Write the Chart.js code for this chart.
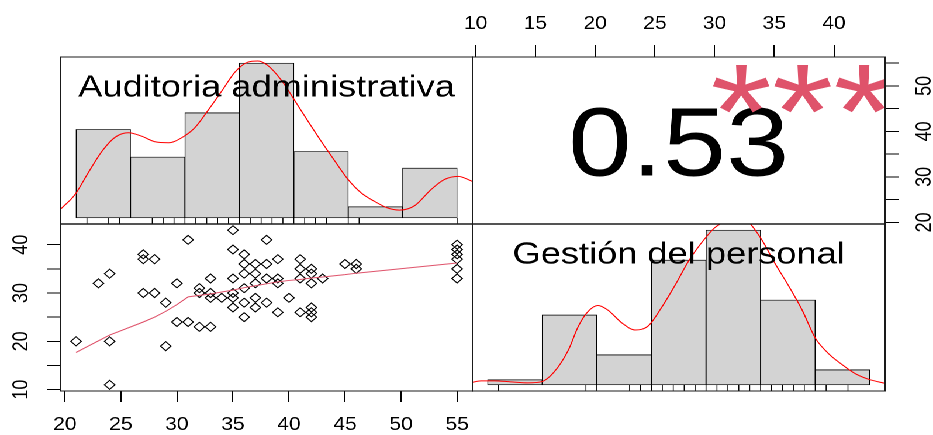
<!DOCTYPE html>
<html>
<head>
<meta charset="utf-8">
<title>Correlación</title>
<script src="https://cdn.jsdelivr.net/npm/chart.js@4.4.1/dist/chart.umd.min.js"></script>
<style>
  html, body { margin: 0; padding: 0; background: #fff; overflow: hidden; }
  /* the reference is stretched sideways, so the whole layout is too */
  #wrap { position: absolute; left: 0; top: 0; width: 798px; height: 435px;
          transform: scaleX(1.1692); transform-origin: 0 0; }
  #wrap canvas { position: absolute; }
</style>
</head>
<body>
<div id="wrap">
  <canvas id="histA" width="356" height="171" style="left:50px;top:55px"></canvas>
  <canvas id="histD" width="357" height="171" style="left:402px;top:222px"></canvas>
  <canvas id="scatter" width="406" height="213" style="left:0px;top:222px"></canvas>
  <canvas id="corr" width="426" height="250" style="left:372px;top:0px"></canvas>
</div>
<script>
// ---- data ----
const labelA = 'Auditoria administrativa';
const labelD = 'Gestión del personal';

// scatter pairs (x = Auditoria administrativa, y = Gestión del personal)
const audit   = [21, 23, 24, 24, 24, 27, 27, 27, 28, 28, 29, 29, 30, 30, 31, 31, 32, 32, 32,
                 33, 33, 33, 33, 34, 35, 35, 35, 35, 35, 35, 36, 36, 36, 36, 36, 36,
                 37, 37, 37, 37, 37, 38, 38, 38, 38, 39, 39, 39, 39, 40, 41, 41, 41, 41,
                 42, 42, 42, 42, 42, 42, 43, 45, 46, 46, 55, 55, 55, 55, 55, 55];
const gestion = [20, 32, 34, 20, 11, 38, 37, 30, 37, 30, 28, 19, 32, 24, 41, 24, 31, 30, 23,
                 33, 30, 29, 23, 29, 43, 39, 33, 30, 29, 27, 38, 36, 34, 31, 28, 25,
                 36, 34, 32, 29, 27, 41, 36, 33, 28, 37, 33, 32, 26, 29, 37, 35, 33, 26,
                 35, 34, 32, 27, 26, 25, 33, 36, 36, 35, 40, 39, 38, 37, 35, 33];

// smoothed line through the scatter
const lowX = [21, 23, 24, 27, 28, 29, 30, 31, 32, 33, 34, 35, 36, 37, 38, 39, 40, 41, 42, 43, 45, 46, 55];
const lowY = [17.7, 20.1, 21.3, 24.0, 25.0, 26.2, 27.6, 29.2, 29.5, 29.8, 30.2, 30.6, 31.1, 31.5,
              31.9, 32.3, 32.6, 32.8, 33.1, 33.3, 33.8, 34.1, 36.2];

// histograms (counts per bin)
const breaksA = [20, 25, 30, 35, 40, 45, 50, 55];
const countsA = [16, 11, 19, 28, 12, 2, 9];
const breaksD = [10, 15, 20, 25, 30, 35, 40, 45];
const countsD = [1, 14, 6, 25, 31, 17, 3];

// density curves, in count units
const densAx = [18.6, 19.9, 21.1, 22.4, 23.6, 24.8, 26.0, 27.2, 28.5, 29.7, 30.9, 32.1, 33.4, 34.6, 35.8, 36.7,
                37.6, 38.9, 40.1, 41.3, 42.5, 43.8, 45.0, 46.2, 47.4, 48.6, 49.7, 51.1, 52.6, 53.8, 55.1, 56.4];
const densAy = [1.6, 4.2, 8.1, 12.1, 14.6, 15.4, 14.8, 13.8, 13.6, 14.5, 16.3, 19.4, 23.0, 26.4, 28.2, 28.4,
                27.6, 24.8, 21.2, 17.5, 13.9, 10.2, 6.9, 4.5, 3.0, 1.8, 1.4, 2.2, 5.1, 6.9, 7.5, 6.6];
const densDx = [8.2, 9.4, 10.6, 12.1, 13.7, 14.9, 16.1, 17.4, 18.3, 19.2, 20.1, 21.0, 22.3, 23.5, 24.7, 25.9, 27.2,
                28.4, 29.6, 30.8, 31.6, 32.7, 33.9, 35.1, 36.3, 37.6, 38.8, 40.0, 41.2, 42.5, 43.7, 44.9, 46.4];
const densDy = [0.3, 0.8, 0.8, 0.6, 0.4, 0.6, 2.6, 7.0, 11.7, 14.7, 15.9, 15.0, 12.4, 11.0, 11.8, 15.4, 20.1,
                24.8, 28.5, 31.5, 32.6, 33.8, 32.6, 29.1, 24.4, 19.7, 15.0, 9.4, 6.3, 4.0, 2.2, 1.1, 0.3];

const corrValue = '0.53';
const corrStars = '***';

// axis ticks
const bottomTicks = [20, 25, 30, 35, 40, 45, 50, 55];
const leftTicks   = [10, 15, 20, 25, 30, 35, 40];
const leftLabels  = [10, 20, 30, 40];
const topTicks    = [10, 15, 20, 25, 30, 35, 40];
const rightTicks  = [20, 25, 30, 35, 40, 45, 50, 55];
const rightLabels = [20, 30, 40, 50];

// ---- setup ----
const FONT = "'Liberation Sans', Arial, Helvetica, sans-serif";
Chart.defaults.font.family = FONT;
Chart.defaults.color = '#000';
Chart.defaults.animation = false;
Chart.defaults.plugins.legend.display = false;
Chart.defaults.plugins.tooltip.enabled = false;

// R pads every axis range by 4% on each side
function ext(lo, hi) { const d = (hi - lo) * 0.04; return [lo - d, hi + d]; }
const uniq = a => [...new Set(a)];

const frame = {
  id: 'frame',
  afterDraw(chart) {
    const a = chart.chartArea, c = chart.ctx;
    c.save();
    c.strokeStyle = '#1a1a1a';
    c.lineWidth = 1;
    c.strokeRect(a.left, a.top, a.right - a.left, a.bottom - a.top);
    c.restore();
  }
};

const rug = {
  id: 'rug',
  afterDatasetsDraw(chart, args, opts) {
    if (!opts.values) return;
    const a = chart.chartArea, c = chart.ctx, sx = chart.scales.x;
    c.save();
    c.strokeStyle = '#000';
    c.lineWidth = 0.8;
    c.beginPath();
    opts.values.forEach(v => {
      const px = sx.getPixelForValue(v);
      c.moveTo(px, a.bottom);
      c.lineTo(px, a.bottom - 6);
    });
    c.stroke();
    c.restore();
  }
};

const panelLabel = {
  id: 'panelLabel',
  afterDatasetsDraw(chart, args, opts) {
    if (!opts.text) return;
    const a = chart.chartArea, c = chart.ctx;
    c.save();
    c.font = '31px ' + FONT;
    c.fillStyle = '#000';
    c.textAlign = 'center';
    c.textBaseline = 'alphabetic';
    c.fillText(opts.text, (a.left + a.right) / 2, a.top + 39.5);
    c.restore();
  }
};

const corrText = {
  id: 'corrText',
  afterDraw(chart, args, opts) {
    const a = chart.chartArea, c = chart.ctx;
    const w = a.right - a.left, h = a.bottom - a.top;
    c.save();
    c.beginPath();
    c.rect(a.left, a.top, w, h);
    c.clip();
    c.textAlign = 'center';
    c.textBaseline = 'alphabetic';
    c.fillStyle = '#000';
    c.font = '97px ' + FONT;
    c.fillText(opts.value, a.left + w / 2, a.top + h / 2 + 0.36 * 97);
    c.fillStyle = '#DF536B';
    c.font = '135px ' + FONT;
    c.fillText(opts.stars, a.left + 0.8 * w, a.top + 0.2 * h + 0.5 * 135);
    c.restore();
  }
};

function axis(pos, range, ticks, labels, size, tickLen, pad) {
  const vertical = pos === 'left' || pos === 'right';
  return {
    type: 'linear', position: pos, min: range[0], max: range[1], offset: false,
    afterBuildTicks: s => { s.ticks = ticks.map(v => ({ value: v })); },
    afterFit: s => {
      if (vertical) s.width = size; else s.height = size;
      s.paddingLeft = s.paddingRight = s.paddingTop = s.paddingBottom = 0;
    },
    border: { display: true, color: '#000', width: 1 },
    grid: { drawOnChartArea: false, drawTicks: true, tickLength: tickLen, color: '#000', lineWidth: 1 },
    ticks: {
      color: '#000', font: { size: 18 }, padding: pad, autoSkip: false,
      minRotation: vertical ? 90 : 0, maxRotation: vertical ? 90 : 0,
      crossAlign: vertical ? 'center' : 'near',
      callback: v => labels.includes(v) ? String(v) : ''
    }
  };
}

function histChart(id, breaks, counts, dx, dy, rugValues, label) {
  const mids = counts.map((_, i) => (breaks[i] + breaks[i + 1]) / 2);
  const xr = ext(breaks[0], breaks[breaks.length - 1]);
  const yr = ext(0, Math.max(...counts));
  return new Chart(document.getElementById(id), {
    type: 'bar',
    data: {
      datasets: [
        {
          type: 'line',
          data: dx.map((x, i) => ({ x, y: dy[i] })),
          borderColor: '#FF0000', borderWidth: 1, pointRadius: 0,
          cubicInterpolationMode: 'monotone', clip: 0, order: 0
        },
        {
          type: 'bar',
          data: mids.map((x, i) => ({ x, y: counts[i] })),
          backgroundColor: '#D3D3D3', borderColor: '#000', borderWidth: 0.8,
          borderSkipped: false, barPercentage: 1, categoryPercentage: 1, order: 1
        }
      ]
    },
    options: {
      responsive: false, devicePixelRatio: 2,
      layout: { padding: 2, autoPadding: false },
      scales: {
        x: { type: 'linear', display: false, min: xr[0], max: xr[1], offset: false },
        y: { type: 'linear', display: false, min: yr[0], max: yr[1] }
      },
      plugins: { rug: { values: rugValues }, panelLabel: { text: label } }
    },
    plugins: [rug, panelLabel, frame]
  });
}

const auditRange = ext(Math.min(...audit), Math.max(...audit));
const gestRange = ext(Math.min(...gestion), Math.max(...gestion));

histChart('histA', breaksA, countsA, densAx, densAy, uniq(audit), labelA);
histChart('histD', breaksD, countsD, densDx, densDy, uniq(gestion), labelD);

new Chart(document.getElementById('scatter'), {
  type: 'scatter',
  data: {
    datasets: [
      {
        type: 'line',
        data: lowX.map((x, i) => ({ x, y: lowY[i] })),
        borderColor: '#DF536B', borderWidth: 1, pointRadius: 0, tension: 0, order: 0
      },
      {
        data: audit.map((x, i) => ({ x, y: gestion[i] })),
        pointStyle: 'rectRot', pointRadius: 4.5, borderColor: '#000', borderWidth: 1,
        backgroundColor: 'rgba(0,0,0,0)', order: 1
      }
    ]
  },
  options: {
    responsive: false, devicePixelRatio: 2,
    layout: { padding: { left: 0, top: 2, right: 2, bottom: 0 }, autoPadding: false },
    scales: {
      x: axis('bottom', auditRange, bottomTicks, bottomTicks, 44, 11, 12),
      y: axis('left', gestRange, leftTicks, leftLabels, 52, 12, 11.5)
    }
  },
  plugins: [frame]
});

new Chart(document.getElementById('corr'), {
  type: 'scatter',
  data: { datasets: [] },
  options: {
    responsive: false, devicePixelRatio: 2,
    layout: { padding: { left: 32, top: 0, right: 0, bottom: 26 }, autoPadding: false },
    scales: {
      x: axis('top', gestRange, topTicks, topTicks, 57, 12, 10),
      y: axis('right', auditRange, rightTicks, rightLabels, 41, 12, 12)
    },
    plugins: { corrText: { value: corrValue, stars: corrStars } }
  },
  plugins: [corrText, frame]
});
</script>
</body>
</html>
